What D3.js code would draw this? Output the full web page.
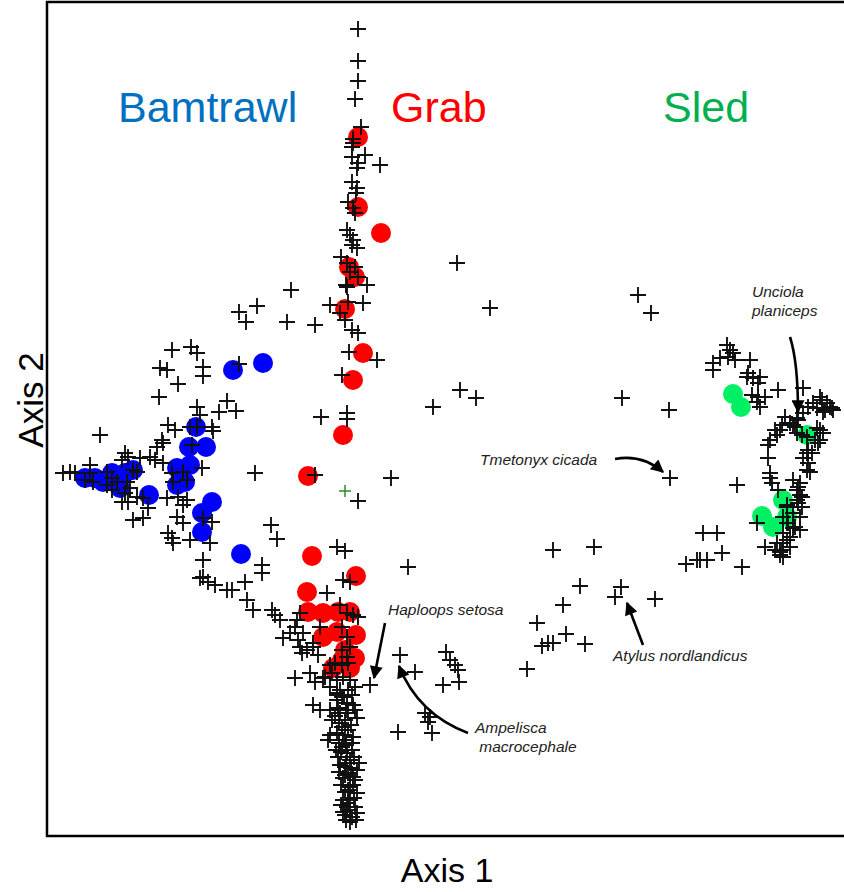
<!DOCTYPE html>
<html>
<head>
<meta charset="utf-8">
<script src="https://cdn.jsdelivr.net/npm/d3@7"></script>
<style>
  html, body { margin: 0; padding: 0; background: #fff; }
  svg { display: block; font-family: "Liberation Sans", Arial, sans-serif; }
</style>
</head>
<body>
<svg id="chart" width="844" height="892"></svg>
<script>
// ordination scores (axis 1, axis 2)
const groupNames = ["Bamtrawl", "Grab", "Sled"];
const groupColors = ["#0070C0", "#FF0000", "#00B050"];
const groupLabelPos = [[71, 714], [344, 714], [616, 714]];

const bamtrawlSamples = [
  [186,466],[216,473],[149,409],[142,389],[159,389],[143,371],[130,368],[138,354],
  [130,351],[86,366],[38,358],[48,358],[56,354],[73,348],[78,363],[65,363],[102,341],
  [165,334],[155,323],[155,304],[194,282]
];
const grabSamples = [
  [311,699],[311,629],[334,603],[302,569],[308,559],[298,527],[316,483],[306,456],
  [296,401],[261,360],[265,280],[309,260],[260,244],[261,224],[276,223],[291,224],
  [303,224],[309,201],[276,199],[290,204],[308,178],[295,176],[286,168],[303,168],[298,186]
];
const sledSamples = [
  [686,442],[694,429],[760,401],[736,336],[715,320],[726,309],[740,319]
];
const centroid = [[298,345]];

const speciesScores = [
  // vertical arm, upper part
  [311,807],[311,775],[311,755],[308,737],[314,709],[306,697],[306,693],[305,689],
  [318,681],[305,679],[311,673],[310,668],[333,671],[305,654],[310,648],[309,643],
  [301,634],[306,628],[308,623],[300,606],[303,601],[306,596],[305,591],[310,588],
  [294,579],[300,573],[308,569],[303,564],[311,559],[299,551],[320,551],[244,546],
  [300,549],[283,531],[301,534],[316,533],[293,523],[298,516],[305,506],[311,503],
  [240,514],[268,511],[302,484],[330,476],[295,461],[274,419],[300,423],[300,417],
  [386,429],[268,361],[344,358],[311,335],[224,311],[230,297],[290,289],[298,285],
  [361,269],[215,271],[215,263],
  // left arm
  [192,524],[210,530],[199,514],[125,486],[144,489],[150,483],[113,468],[120,466],
  [156,469],[156,460],[131,452],[192,472],[112,439],[150,429],[153,421],[180,435],
  [172,424],[189,425],[53,401],[121,411],[128,406],[115,396],[116,393],[143,409],
  [150,409],[165,409],[166,405],[110,389],[145,391],[78,383],[81,379],[75,376],
  [93,378],[103,379],[108,376],[116,373],[86,366],[90,364],[125,363],[136,364],
  [155,368],[140,356],[126,354],[23,364],[16,363],[28,363],[43,371],[43,363],
  [38,356],[46,354],[60,364],[65,358],[60,351],[70,354],[65,346],[80,354],
  [78,343],[83,348],[75,334],[81,334],[90,339],[96,338],[101,328],[86,316],
  [96,318],[120,338],[131,339],[136,331],[140,336],[130,319],[136,313],[156,318],
  [121,303],[125,298],[126,293],[143,296],[163,293],[156,276],[156,259],[208,363],
  [165,314],[153,258],[161,254],[168,251],[180,246],[185,246],[198,254],[200,236],
  [206,226],[225,226],[233,216],[236,198],[248,209],[253,223],[256,203],[253,189],
  [260,186],[266,193],[271,181],[273,209],[280,243],[296,256],[248,158],[263,163],
  [268,154],[276,158],[283,149],[290,143],
  // vertical arm, lower part
  [303,254],[293,231],[300,223],[306,221],[311,219],[228,221],[250,216],[243,203],
  [251,196],[266,189],[255,183],[295,209],[300,199],[303,189],[295,186],[300,179],
  [283,171],[288,173],[295,171],[301,173],[278,159],[285,163],[290,156],[296,159],
  [303,156],[308,149],[323,151],[353,181],[368,164],[266,131],[273,126],[283,126],
  [290,136],[295,139],[300,133],[285,116],[293,123],[301,123],[295,109],[301,106],
  [290,103],[296,96],[305,93],[295,89],[300,83],[291,79],[303,76],[298,69],
  [310,66],[301,63],[296,58],[308,56],[303,49],[298,44],[310,43],[303,36],
  [300,29],[308,29],[298,21],[305,19],[310,23],[303,14],[283,101],[281,96],
  [293,146],[305,141],[298,116],[305,86],[293,71],[306,51],[296,36],[303,26],
  [301,146],[291,128],[351,104],[378,123],[385,103],[381,114],
  [297,139],[306,131],[299,126],[292,113],[304,111],[298,101],[292,93],[306,99],
  [299,91],[294,84],[307,79],[299,73],[292,64],[304,68],[298,61],[306,59],
  [294,51],[301,46],[307,38],[294,31],[301,33],[296,24],[309,16],[299,16],
  [288,120],[310,118],[289,86],[312,73],[290,141],[308,126],
  // middle and lower middle
  [399,184],[403,176],[408,171],[411,166],[396,151],[412,154],[383,119],
  [506,286],[547,289],[533,250],[574,249],[568,239],[608,237],[516,231],[490,213],
  [519,202],[495,190],[501,193],[506,193],[538,192],[480,167],[639,272],[650,276],
  [410,573],[443,528],[591,541],[604,523],[413,446],[429,438],[575,438],[622,426],
  [623,358],
  // right arm
  [680,491],[683,486],[686,483],[681,479],[688,476],[666,473],[673,478],[703,476],
  [666,466],[701,463],[706,458],[713,459],[700,459],[711,453],[731,446],[756,448],
  [705,441],[711,439],[718,439],[710,434],[713,429],[775,436],[780,433],[783,429],
  [778,426],[786,426],[766,433],[770,428],[751,416],[743,413],[748,409],[756,423],
  [735,411],[728,406],[738,419],[750,403],[755,401],[770,408],[776,403],[768,396],
  [771,393],[723,396],[721,391],[721,378],[760,383],[756,378],[761,373],[760,366],
  [723,363],[725,353],[746,356],[753,353],[750,346],[755,339],[690,351],[751,333],
  [740,329],[746,323],[753,319],[736,319],[710,313],[741,313],[746,308],[736,303],
  [718,289],[730,293],[735,286],[740,296],[733,281],[743,289],[656,303],[670,303],
  [675,283],[653,276],[660,276],[695,269],
  [773,439],[785,428],[776,424],[761,429],[750,418],[733,406],[730,401],[746,411],
  [760,399],[773,406],[773,396],[761,386],[765,383],[763,364],[723,358],[731,346],
  [751,349],[753,341],[750,336],[755,329],[740,331],[740,313],[748,309],[753,306],
  [743,299],[736,293],[733,284],[728,286],[736,279]
];

// species call-outs: label lines at text, arrow from -> (via) -> to
const annotations = [
  { lines: ["Unciola", "planiceps"], text: [705, 539], from: [743, 499], via: [751, 474], to: [751, 424] },
  { lines: ["Tmetonyx cicada"], text: [433, 371], from: [568, 377], via: [595, 382], to: [616, 364] },
  { lines: ["Haploops setosa"], text: [341, 221], from: [338, 213], via: null, to: [327, 158] },
  { lines: ["Ampelisca", " macrocephale"], text: [428, 103], from: [421, 103], via: [371, 122], to: [352, 170] },
  { lines: ["Atylus nordlandicus"], text: [566, 175], from: [596, 191], via: null, to: [580, 233] }
];

const axisTitles = ["Axis 1", "Axis 2"];

const svg = d3.select("#chart");
const x = d3.scaleLinear().domain([0, 800]).range([47, 847]);
const y = d3.scaleLinear().domain([0, 834]).range([836, 2]);

svg.append("defs").append("marker")
  .attr("id", "head")
  .attr("viewBox", "0 0 10 10")
  .attr("refX", 9).attr("refY", 5)
  .attr("markerWidth", 16).attr("markerHeight", 13)
  .attr("markerUnits", "userSpaceOnUse")
  .attr("orient", "auto")
  .append("path").attr("d", "M0,0L10,5L0,10z").attr("fill", "#000");

// frame (right side runs off the picture)
svg.append("rect")
  .attr("x", x(0)).attr("y", y(834))
  .attr("width", x(800) - x(0)).attr("height", y(0) - y(834))
  .attr("fill", "none").attr("stroke", "#000").attr("stroke-width", 2.5);

// group names
svg.selectAll("text.group")
  .data(groupNames)
  .enter().append("text")
  .attr("class", "group")
  .attr("x", (d, i) => x(groupLabelPos[i][0]))
  .attr("y", (d, i) => y(groupLabelPos[i][1]))
  .attr("font-size", 43)
  .attr("fill", (d, i) => groupColors[i])
  .text(d => d);

// samples as filled circles
const samples = [
  { data: bamtrawlSamples, color: "#0000FF" },
  { data: grabSamples, color: "#FF0000" },
  { data: sledSamples, color: "#00F064" }
];
samples.forEach(s => {
  svg.append("g").selectAll("circle")
    .data(s.data)
    .enter().append("circle")
    .attr("cx", d => x(d[0]))
    .attr("cy", d => y(d[1]))
    .attr("r", 10)
    .attr("fill", s.color);
});

// species as crosses
svg.append("g").selectAll("path")
  .data(speciesScores)
  .enter().append("path")
  .attr("d", "M-8,0H8M0,-8V8")
  .attr("transform", d => `translate(${x(d[0])},${y(d[1])})`)
  .attr("stroke", "#111")
  .attr("stroke-width", 1.9)
  .attr("fill", "none");

svg.append("g").selectAll("path")
  .data(centroid)
  .enter().append("path")
  .attr("d", "M-6,0H6M0,-6V6")
  .attr("transform", d => `translate(${x(d[0])},${y(d[1])})`)
  .attr("stroke", "#2E8B2E")
  .attr("stroke-width", 1.5);

// call-outs
const ann = svg.append("g");
annotations.forEach(a => {
  const t = ann.append("text")
    .attr("x", x(a.text[0]))
    .attr("y", y(a.text[1]))
    .attr("font-size", 15.5)
    .attr("font-style", "italic")
    .attr("fill", "#222");
  a.lines.forEach((l, i) => {
    t.append("tspan")
      .attr("x", x(a.text[0]))
      .attr("dy", i === 0 ? 0 : 19)
      .attr("xml:space", "preserve")
      .text(l);
  });
  const p = d3.path();
  p.moveTo(x(a.from[0]), y(a.from[1]));
  if (a.via) p.quadraticCurveTo(x(a.via[0]), y(a.via[1]), x(a.to[0]), y(a.to[1]));
  else p.lineTo(x(a.to[0]), y(a.to[1]));
  ann.append("path")
    .attr("d", p.toString())
    .attr("fill", "none")
    .attr("stroke", "#000")
    .attr("stroke-width", 2.6)
    .attr("marker-end", "url(#head)");
});

// axis titles
svg.append("text")
  .attr("x", (x(0) + x(800)) / 2)
  .attr("y", 882)
  .attr("text-anchor", "middle")
  .attr("font-size", 34)
  .text(axisTitles[0]);

svg.append("text")
  .attr("transform", `translate(43,${y(436)}) rotate(-90)`)
  .attr("text-anchor", "middle")
  .attr("font-size", 35)
  .text(axisTitles[1]);
</script>
</body>
</html>
